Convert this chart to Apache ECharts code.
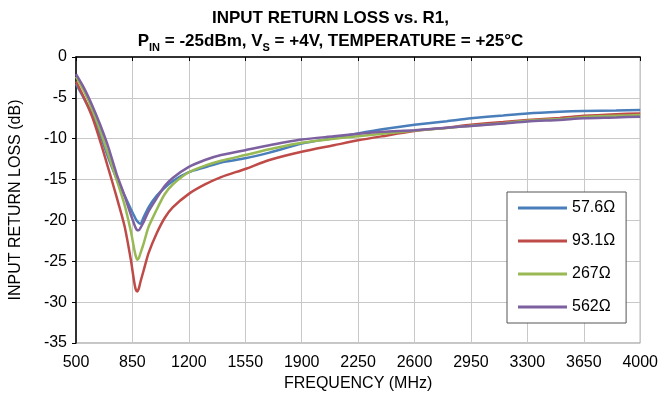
<!DOCTYPE html>
<html>
<head>
<meta charset="utf-8">
<script src="https://cdn.jsdelivr.net/npm/echarts@6/dist/echarts.min.js"></script>
<style>
  html, body { margin: 0; padding: 0; background: #fff; }
  #chart { width: 661px; height: 401px; }
</style>
</head>
<body>
<div id="chart"></div>
<script>
// frequency points (MHz), shared by all curves
var freqs = [500, 550, 600, 650, 700, 750, 800, 840, 860, 870, 880, 890, 900, 920, 950, 1000, 1050, 1100,
  1200, 1300, 1400, 1550, 1700, 1900, 2100, 2250, 2400, 2600, 2800, 2950, 3150, 3300, 3500, 3650, 3850, 4000];

var names = ['57.6Ω', '93.1Ω', '267Ω', '562Ω'];
var colors = ['#4A7EBB', '#BE4B48', '#98B954', '#7D60A0'];

// return loss (dB) for each R1
var r57 = [-3.3, -5.1, -7.0, -9.5, -12.3, -14.8, -16.9, -18.6, -19.4, -19.8, -20.1, -20.3, -20.4, -19.6, -18.4, -17.0, -16.0, -15.2,
  -14.1, -13.5, -12.9, -12.4, -11.7, -10.6, -9.9, -9.35, -8.85, -8.3, -7.85, -7.5, -7.15, -6.9, -6.7, -6.6, -6.55, -6.5];
var r93 = [-3.0, -5.0, -7.3, -10.3, -13.6, -17.0, -20.6, -24.8, -27.4, -28.4, -28.7, -28.3, -27.5, -26.1, -24.0, -21.6, -19.7, -18.4,
  -16.75, -15.6, -14.7, -13.7, -12.6, -11.6, -10.8, -10.2, -9.7, -9.07, -8.65, -8.3, -7.95, -7.7, -7.45, -7.2, -7.0, -6.9];
var r267 = [-2.4, -4.2, -6.4, -9.0, -11.9, -14.9, -18.0, -21.3, -23.4, -24.3, -24.8, -24.6, -24.0, -22.8, -20.8, -18.7, -16.8, -15.6,
  -14.1, -13.3, -12.7, -12.0, -11.3, -10.5, -10.0, -9.7, -9.4, -9.0, -8.7, -8.4, -8.1, -7.8, -7.6, -7.35, -7.2, -7.1];
var r562 = [-2.1, -3.8, -5.9, -8.3, -11.0, -14.2, -16.9, -19.3, -20.4, -20.9, -21.2, -21.2, -20.9, -20.2, -18.9, -17.3, -15.8, -14.8,
  -13.45, -12.6, -12.0, -11.4, -10.8, -10.1, -9.7, -9.4, -9.15, -8.95, -8.65, -8.45, -8.15, -7.9, -7.7, -7.5, -7.4, -7.3];

var curves = [r57, r93, r267, r562];
var font = "'Liberation Sans', Arial, sans-serif";

function pairs(vals) {
  return freqs.map(function (f, i) { return [f, vals[i]]; });
}

var chart = echarts.init(document.getElementById('chart'));
chart.setOption({
  animation: false,
  textStyle: { fontFamily: font },
  title: {
    left: 'center',
    top: 2,
    text: '{t|INPUT RETURN LOSS vs. R1,}\n{t|P}{s|IN}{t| = -25dBm, V}{s|S}{t| = +4V, TEMPERATURE = +25°C}',
    textStyle: {
      rich: {
        t: { fontFamily: font, fontWeight: 'bold', fontSize: 17, color: '#000', lineHeight: 23 },
        s: { fontFamily: font, fontWeight: 'bold', fontSize: 11, color: '#000', lineHeight: 13, verticalAlign: 'bottom' }
      }
    }
  },
  grid: {
    left: 76, right: 18, top: 57, bottom: 58,
    show: true, borderColor: '#8C8C8C', borderWidth: 1
  },
  legend: {
    orient: 'vertical',
    left: 507, top: 192,
    padding: [8, 11, 8, 11],
    itemGap: 17,
    itemWidth: 49, itemHeight: 3,
    icon: 'rect',
    backgroundColor: '#fff',
    borderColor: '#555', borderWidth: 1,
    textStyle: { fontFamily: font, fontSize: 16, color: '#000', lineHeight: 16 },
    data: names
  },
  xAxis: [{
    type: 'value', min: 500, max: 4000, interval: 350,
    name: 'FREQUENCY (MHz)', nameLocation: 'middle', nameGap: 32,
    nameTextStyle: { fontFamily: font, fontSize: 16, color: '#000' },
    axisLine: { show: false },
    axisTick: { show: false },
    axisLabel: { color: '#000', fontSize: 16, margin: 12, formatter: function (v) { return String(v); } },
    splitLine: { show: true, lineStyle: { color: '#C8C8C8', width: 1 } }
  }, {
    type: 'value', min: 500, max: 4000, interval: 350, position: 'top',
    axisLine: { show: true, lineStyle: { color: '#000', width: 1.5 } },
    axisTick: { show: true, inside: true, length: 4, lineStyle: { color: '#000' } },
    axisLabel: { show: false },
    splitLine: { show: false }
  }],
  yAxis: {
    type: 'value', min: -35, max: 0, interval: 5,
    name: 'INPUT RETURN LOSS (dB)', nameLocation: 'middle', nameGap: 52,
    nameTextStyle: { fontFamily: font, fontSize: 16, color: '#000' },
    axisLine: { show: true, lineStyle: { color: '#000', width: 1.5 } },
    axisTick: { show: true, length: 4, lineStyle: { color: '#000' } },
    axisLabel: { color: '#000', fontSize: 16, margin: 9 },
    splitLine: { show: true, lineStyle: { color: '#C8C8C8', width: 1 } }
  },
  series: curves.map(function (vals, i) {
    return {
      name: names[i],
      type: 'line',
      xAxisIndex: 0,
      data: pairs(vals),
      showSymbol: false,
      smooth: 0.25,
      color: colors[i],
      lineStyle: { color: colors[i], width: 2.5 }
    };
  })
});
</script>
</body>
</html>
